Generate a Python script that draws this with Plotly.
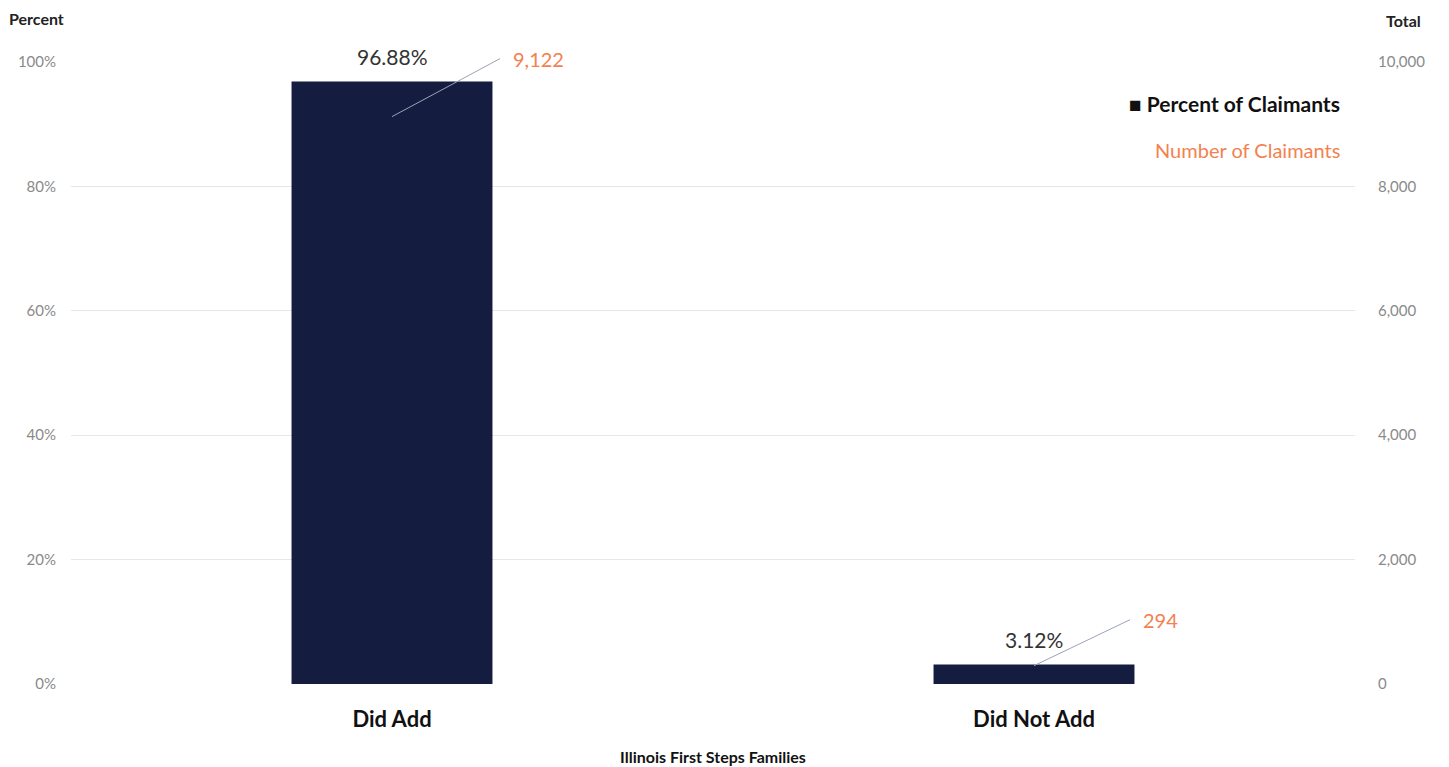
import plotly.graph_objects as go

categories = ["Did Add", "Did Not Add"]
percent_values = [96.88, 3.12]
number_values = [9122, 294]
left_ticks = [0, 20, 40, 60, 80, 100]
left_tick_labels = ["0%", "20%", "40%", "60%", "80%", "100%"]
right_ticks = [0, 2000, 4000, 6000, 8000, 10000]
right_tick_labels = ["0", "2,000", "4,000", "6,000", "8,000", "10,000"]

NAVY = "#141d40"
ORANGE = "#f3814f"
FONT = "Lato, 'Open Sans', sans-serif"

fig = go.Figure()
fig.add_trace(go.Bar(
    x=categories, y=percent_values, name="Percent of Claimants",
    marker=dict(color=NAVY, line=dict(width=0)), width=0.313,
    showlegend=False,
))
fig.add_trace(go.Scatter(
    x=categories, y=number_values, yaxis="y2", mode="markers",
    marker=dict(size=1, color="rgba(0,0,0,0)"), name="Number of Claimants",
    showlegend=False, hoverinfo="skip",
))

for c, v in zip(categories, percent_values):
    fig.add_annotation(
        x=c, y=v, xref="x", yref="y", text=f"{v:.2f}%", showarrow=False,
        yanchor="middle", yshift=25,
        font=dict(size=21, color="#333333", family=FONT),
    )

for c, v in zip(categories, number_values):
    fig.add_annotation(
        x=c, y=v, xref="x", yref="y2", text=f"{v:,}",
        showarrow=True, arrowhead=0, arrowwidth=1, arrowcolor="#9aa3b5",
        ax=108 if v > 1000 else 96, ay=-58 if v > 1000 else -46,
        xanchor="left", borderpad=12,
        font=dict(size=20, color=ORANGE, family=FONT),
    )

fig.add_annotation(x=-0.05, y=1.0, xref="paper", yref="paper", yshift=44,
                   text="<b>Percent</b>", showarrow=False, xanchor="left", yanchor="middle",
                   font=dict(size=16, color="#222", family=FONT))
fig.add_annotation(x=1.0, y=1.0, xref="paper", yref="paper", yshift=42, xshift=29,
                   text="<b>Total</b>", showarrow=False, xanchor="left", yanchor="middle",
                   font=dict(size=16, color="#222", family=FONT))
fig.add_annotation(x=0.99, y=1.0, xref="paper", yref="paper", yshift=-41,
                   text="<b>■ Percent of Claimants</b>", showarrow=False, xanchor="right",
                   yanchor="middle", font=dict(size=21, color="#111", family=FONT))
fig.add_annotation(x=0.99, y=1.0, xref="paper", yref="paper", yshift=-88,
                   text="Number of Claimants", showarrow=False, xanchor="right",
                   yanchor="middle", font=dict(size=20, color=ORANGE, family=FONT))

fig.update_layout(
    width=1449, height=767,
    margin=dict(l=71, r=94, t=62, b=83, autoexpand=False),
    paper_bgcolor="white", plot_bgcolor="white",
    font=dict(family=FONT),
    xaxis=dict(
        showgrid=False, showline=False, ticks="", automargin=False,
        tickvals=categories, ticktext=[f"<b>{c}</b>" for c in categories],
        tickfont=dict(size=22, color="#111", family=FONT),
        ticklabelstandoff=20,
        title=dict(text="<b>Illinois First Steps Families</b>", standoff=20,
                   font=dict(size=16, color="#111", family=FONT)),
    ),
    yaxis=dict(
        range=[0, 100], tickvals=left_ticks, ticktext=left_tick_labels,
        showgrid=True, gridcolor="#e3e7ee", gridwidth=1, zeroline=False,
        tickfont=dict(size=15, color="#8a8a8a", family=FONT),
        ticklabelstandoff=14, automargin=False,
    ),
    yaxis2=dict(
        range=[0, 10000], tickvals=right_ticks, ticktext=right_tick_labels,
        overlaying="y", side="right", showgrid=False, zeroline=False,
        tickfont=dict(size=15, color="#8a8a8a", family=FONT),
        ticklabelstandoff=22, automargin=False,
    ),
)

fig.write_html("out.html")
